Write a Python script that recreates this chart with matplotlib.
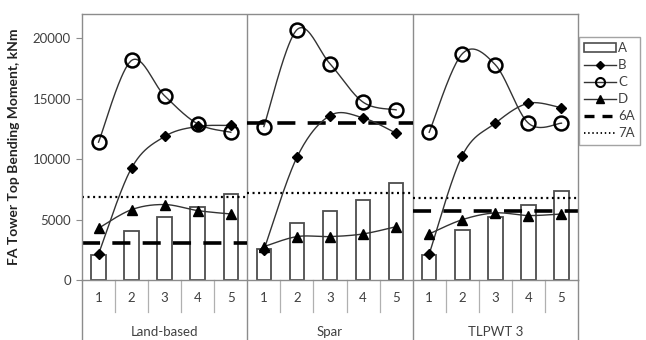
import numpy as np
import matplotlib
matplotlib.use("Agg")
import matplotlib.pyplot as plt
from matplotlib.lines import Line2D
from matplotlib.patches import Patch

plt.rcParams['font.family'] = ['Lato', 'DejaVu Sans']

groups = ["Land-based", "Spar", "TLPWT 3"]
cases = ["1", "2", "3", "4", "5"]

# one row per platform, one column per case
a_vals = [[2100, 4080, 5190, 6020, 7120],
          [2600, 4690, 5740, 6620, 8000],
          [2070, 4140, 5240, 6240, 7400]]
b_vals = [[2150, 9270, 11870, 12700, 12780],
          [2480, 10150, 13600, 13410, 12140],
          [2150, 10290, 12970, 14620, 14240]]
c_vals = [[11400, 18160, 15230, 12910, 12220],
          [12690, 20700, 17880, 14710, 14070],
          [12220, 18710, 17800, 12970, 12970]]
d_vals = [[4280, 5820, 6240, 5740, 5460],
          [2760, 3590, 3590, 3810, 4410],
          [3810, 4990, 5550, 5330, 5460]]
a6_vals = [3060, 13000, 5680]
a7_vals = [6840, 7170, 6760]

yticks = [0, 5000, 10000, 15000, 20000]

W, H = 646, 340
fig = plt.figure(figsize=(W / 100, H / 100), dpi=100)
x0, x1, ytop, ybot = 82, 578, 14, 280
ax = fig.add_axes([x0 / W, (H - ybot) / H, (x1 - x0) / W, (ybot - ytop) / H])

frame = '#8c8c8c'
n = len(cases)


def smooth(xs, ys, steps=40):
    """Excel-style smoothed polyline through points (cubic Bezier)."""
    pts = np.column_stack([xs, ys]).astype(float)
    out = []
    for i in range(len(pts) - 1):
        p0 = pts[i - 1] if i > 0 else pts[i]
        p1, p2 = pts[i], pts[i + 1]
        p3 = pts[i + 2] if i + 2 < len(pts) else pts[i + 1]
        c1 = p1 + (p2 - p0) / 6
        c2 = p2 - (p3 - p1) / 6
        t = np.linspace(0, 1, steps)[:, None]
        seg = ((1 - t) ** 3 * p1 + 3 * (1 - t) ** 2 * t * c1
               + 3 * (1 - t) * t ** 2 * c2 + t ** 3 * p2)
        out.append(seg if i == 0 else seg[1:])
    return np.vstack(out)


for g in range(len(groups)):
    xs = np.arange(n) + g * n + 0.5
    ax.bar(xs, a_vals[g], width=0.44, facecolor='white', edgecolor='#4d4d4d',
           linewidth=1.3, zorder=1)
    ax.hlines(a6_vals[g], g * n, (g + 1) * n, colors='black', linewidth=2.6,
              linestyles=(0, (5, 3.4)), zorder=2)
    ax.hlines(a7_vals[g], g * n, (g + 1) * n, colors='black', linewidth=1.6,
              linestyles=(0, (0.9, 1.6)), zorder=2)
    for vals, mk, ms, fc, mew in [(b_vals, 'D', 5.5, 'black', 1.0),
                                  (c_vals, 'o', 10, 'none', 1.8),
                                  (d_vals, '^', 7.5, 'black', 1.0)]:
        curve = smooth(xs, vals[g])
        ax.plot(curve[:, 0], curve[:, 1], color='#333333', linewidth=1.0, zorder=3)
        ax.plot(xs, vals[g], linestyle='none', marker=mk, markersize=ms,
                markerfacecolor=fc, markeredgecolor='black', markeredgewidth=mew,
                zorder=4)

ax.set_xlim(0, n * len(groups))
ax.set_ylim(0, 22000)
ax.set_yticks(yticks)
ax.set_yticklabels([str(v) for v in yticks], fontsize=9.5, color='#404040')
ax.tick_params(axis='y', length=4, width=0.8, color=frame, pad=4)
ax.set_xticks([])
for s in ax.spines.values():
    s.set_color(frame)
    s.set_linewidth(1.0)

ax.set_ylabel("FA Tower Top Bending Moment, kNm", fontsize=10, fontweight='bold',
              color='#222222', labelpad=9)

# category axis below the plot
tr = ax.get_xaxis_transform()
bottom = -(H - ybot) / (ybot - ytop)
sep = -(312 - ybot) / (ybot - ytop)
for g in range(len(groups) + 1):
    ax.plot([g * n, g * n], [0, bottom], transform=tr, color=frame, lw=1.0,
            clip_on=False, zorder=0)
    if g < len(groups):
        for k in range(1, n):
            ax.plot([g * n + k] * 2, [0, sep], transform=tr, color='#b0b0b0',
                    lw=0.9, clip_on=False)
        for k in range(n):
            ax.text(g * n + k + 0.5, -(298 - ybot) / (ybot - ytop), cases[k],
                    transform=tr, ha='center', va='center', fontsize=9.5,
                    color='#404040')
        ax.text(g * n + n / 2, -(332 - ybot) / (ybot - ytop), groups[g],
                transform=tr, ha='center', va='center', fontsize=9.5,
                color='#404040')
for g in range(1, len(groups)):
    ax.axvline(g * n, color=frame, lw=1.0, zorder=0)

handles = [Patch(facecolor='white', edgecolor='#4d4d4d', linewidth=1.2, label='A'),
           Line2D([], [], color='#333333', lw=1, marker='D', ms=4.5,
                  mfc='black', mec='black', label='B'),
           Line2D([], [], color='#333333', lw=1, marker='o', ms=6.5,
                  mfc='none', mec='black', mew=1.5, label='C'),
           Line2D([], [], color='#333333', lw=1, marker='^', ms=6,
                  mfc='black', mec='black', label='D'),
           Line2D([], [], color='black', lw=2.4, linestyle=(0, (3, 2.4)), label='6A'),
           Line2D([], [], color='black', lw=1.3, linestyle=(0, (0.8, 1.5)), label='7A')]
leg = fig.legend(handles=handles, loc='upper left',
                 bbox_to_anchor=(579 / W, (H - 37) / H), fontsize=9.5,
                 frameon=True, fancybox=False, edgecolor=frame,
                 borderaxespad=0, handlelength=2.4, handletextpad=0.15,
                 labelspacing=0.38, borderpad=0.4)
leg.get_frame().set_linewidth(1.0)
for t in leg.get_texts():
    t.set_color('#404040')

fig.savefig('out.png', dpi=100)
